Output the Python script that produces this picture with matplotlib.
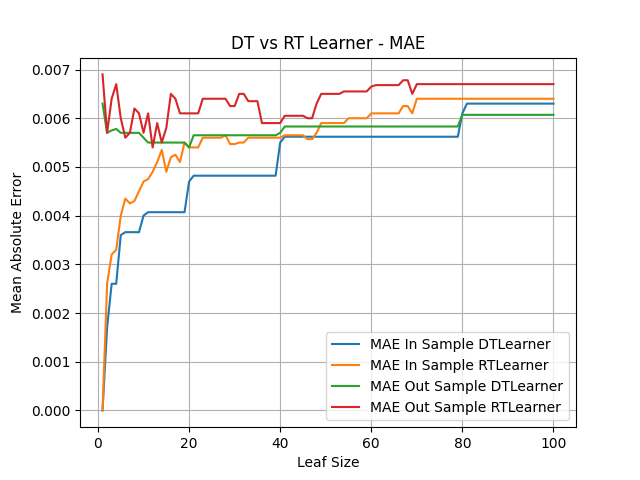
import matplotlib
matplotlib.use("Agg")
import matplotlib.pyplot as plt

leaf = list(range(1, 101))

def steps(pairs):
    out = []
    for v, n in pairs:
        out += [v] * n
    return out

dt_in = steps([(0,1),(0.0017,1),(0.0026,2),(0.0036,1),(0.00366,4),(0.0040,1),(0.00407,9),(0.0047,1),
               (0.00482,19),(0.0055,1),(0.00562,39),(0.0061,1),(0.0063,20)])
rt_in = [0,0.0026,0.0032,0.0033,0.0040,0.00435,0.00425,0.0043,0.0045,0.0047,0.00475,0.0049,0.0051,0.00535,
         0.0049,0.0052,0.00525,0.0051,0.0055,0.0054,0.0054,0.0054] + steps([(0.0056,5),(0.00565,1),(0.00547,2),
         (0.0055,2),(0.0056,8),(0.00565,5),(0.00557,2),(0.0057,1),(0.0059,6),(0.006,5),(0.0061,7),(0.00625,2),
         (0.0061,1),(0.0064,31)])
dt_out = steps([(0.0063,1),(0.0057,1),(0.00575,1),(0.00578,1),(0.0057,5),(0.0056,1),(0.0055,9),(0.0054,1),
                (0.00565,19),(0.0057,1),(0.00583,39),(0.00607,21)])
rt_out = [0.0069,0.0057,0.0064,0.0067,0.006,0.0056,0.0057,0.0062,0.0061,0.0057,0.0061,0.0054,0.0059,0.0055,
          0.0058,0.0065,0.0064] + steps([(0.0061,5),(0.0064,6),(0.00625,2),(0.0065,2),(0.00635,3),(0.0059,5),
          (0.00605,5),(0.006,2),(0.0063,1),(0.0065,5),(0.00655,6),(0.00665,1),(0.00668,6),(0.00678,2),
          (0.0065,1),(0.0067,31)])

fig, ax = plt.subplots(figsize=(6.4, 4.8), dpi=100)
ax.plot(leaf, dt_in, label="MAE In Sample DTLearner")
ax.plot(leaf, rt_in, label="MAE In Sample RTLearner")
ax.plot(leaf, dt_out, label="MAE Out Sample DTLearner")
ax.plot(leaf, rt_out, label="MAE Out Sample RTLearner")
ax.set_title("DT vs RT Learner - MAE")
ax.set_xlabel("Leaf Size")
ax.set_ylabel("Mean Absolute Error")
ax.grid(True)
ax.legend(loc="lower right")
fig.savefig("out.png")
